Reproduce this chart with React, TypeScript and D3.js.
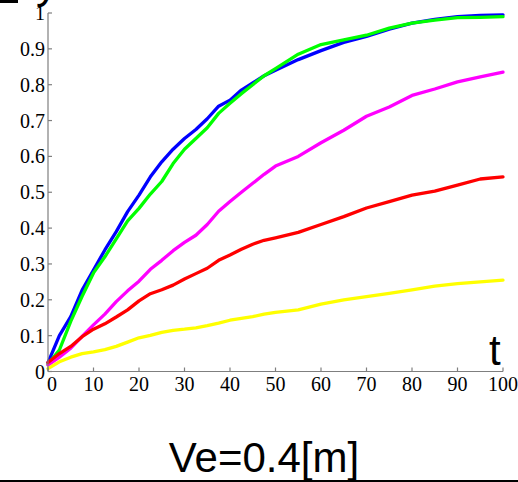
import React from "react";
import * as d3 from "d3";

const T = [0, 2.5, 5, 7.5, 10, 12.5, 15, 17.5, 20, 22.5, 25, 27.5, 30, 32.5, 35, 37.5, 40, 42.5, 45, 47.5, 50, 55, 60, 65, 70, 75, 80, 85, 90, 95, 100];

const blue = [0.025, 0.1, 0.153, 0.227, 0.283, 0.339, 0.39, 0.446, 0.492, 0.543, 0.585, 0.62, 0.65, 0.675, 0.705, 0.74, 0.757, 0.785, 0.805, 0.825, 0.84, 0.87, 0.895, 0.918, 0.935, 0.955, 0.972, 0.982, 0.99, 0.993, 0.995];
const green = [0.02, 0.06, 0.14, 0.21, 0.275, 0.32, 0.37, 0.42, 0.455, 0.495, 0.53, 0.58, 0.62, 0.65, 0.68, 0.72, 0.748, 0.775, 0.8, 0.825, 0.845, 0.885, 0.912, 0.925, 0.938, 0.958, 0.972, 0.98, 0.987, 0.988, 0.99];
const magenta = [0.018, 0.04, 0.065, 0.098, 0.13, 0.16, 0.195, 0.225, 0.252, 0.285, 0.31, 0.337, 0.36, 0.38, 0.41, 0.447, 0.474, 0.5, 0.525, 0.55, 0.573, 0.6, 0.638, 0.673, 0.712, 0.738, 0.77, 0.788, 0.808, 0.822, 0.835];
const red = [0.025, 0.05, 0.07, 0.097, 0.118, 0.133, 0.152, 0.172, 0.197, 0.217, 0.228, 0.241, 0.258, 0.273, 0.288, 0.31, 0.325, 0.341, 0.355, 0.366, 0.373, 0.388, 0.41, 0.432, 0.456, 0.474, 0.492, 0.503, 0.52, 0.537, 0.543];
const yellow = [0.008, 0.027, 0.04, 0.05, 0.055, 0.061, 0.07, 0.082, 0.094, 0.101, 0.109, 0.115, 0.118, 0.122, 0.128, 0.135, 0.143, 0.148, 0.153, 0.16, 0.165, 0.172, 0.188, 0.2, 0.209, 0.218, 0.228, 0.238, 0.245, 0.25, 0.255];

const seriesList = [
  { name: "blue", values: blue, color: "#0000ff" },
  { name: "green", values: green, color: "#00ff00" },
  { name: "magenta", values: magenta, color: "#ff00ff" },
  { name: "red", values: red, color: "#ff0000" },
  { name: "yellow", values: yellow, color: "#ffff00" },
];

const xTicks = [0, 10, 20, 30, 40, 50, 60, 70, 80, 90, 100];
const yTicks = [0, 0.1, 0.2, 0.3, 0.4, 0.5, 0.6, 0.7, 0.8, 0.9, 1];
const yTickLabels = ["0", "0.1", "0.2", "0.3", "0.4", "0.5", "0.6", "0.7", "0.8", "0.9", "1"];
const title = "Ve=0.4[m]";
const xLabel = "t";
const yLabel = "y";

export default function App() {
  const W = 518, H = 482;
  const x = d3.scaleLinear().domain([0, 100]).range([48, 503]);
  const y = d3.scaleLinear().domain([0, 1]).range([371.5, 13]);
  const axisColor = "#7f7f7f";
  const serif = "'Liberation Serif', 'Times New Roman', serif";
  const sans = "'Liberation Sans', Arial, sans-serif";

  return (
    <div style={{ position: "fixed", left: 0, top: 0 }}>
      <svg width={W} height={H} style={{ display: "block", background: "#fff" }}>
        <rect x={0} y={0} width={W} height={H} fill="#fff" />
        <rect x={0} y={0} width={18} height={3} fill="#000" />
        <text x={36} y={-2} fontFamily={sans} fontSize={44} fill="#000">{yLabel}</text>

        {seriesList.map((s) => {
          const line = d3
            .line<number>()
            .x((_, i) => x(T[i]))
            .y((d) => y(d));
          return (
            <path key={s.name} d={line(s.values) || ""} fill="none" stroke={s.color} strokeWidth={3.3} strokeLinejoin="round" strokeLinecap="round" />
          );
        })}

        <line x1={x(0)} x2={x(0)} y1={y(0)} y2={y(1)} stroke={axisColor} strokeWidth={1.2} />
        <line x1={x(0)} x2={x(100)} y1={y(0)} y2={y(0)} stroke={axisColor} strokeWidth={1.2} />
        {yTicks.map((v, i) => (
          <g key={"y" + v}>
            <line x1={x(0)} x2={x(0) + 4} y1={y(v)} y2={y(v)} stroke={axisColor} strokeWidth={1.2} />
            <text x={45} y={y(v)} dy="0.35em" textAnchor="end" fontFamily={serif} fontSize={20} fill="#000">
              {yTickLabels[i]}
            </text>
          </g>
        ))}
        {xTicks.map((v) => (
          <g key={"x" + v}>
            <line x1={x(v)} x2={x(v)} y1={y(0)} y2={y(0) - 4} stroke={axisColor} strokeWidth={1.2} />
            <text x={x(v) + (v === 0 ? 4 : 0)} y={391} textAnchor="middle" fontFamily={serif} fontSize={20} fill="#000">
              {v}
            </text>
          </g>
        ))}
        <text x={489} y={365} fontFamily={sans} fontSize={42} fill="#000">{xLabel}</text>
        <text x={264} y={472} textAnchor="middle" fontFamily={sans} fontSize={42} fill="#000">{title}</text>
        <rect x={0} y={480} width={W} height={2} fill="#000" />
      </svg>
    </div>
  );
}
